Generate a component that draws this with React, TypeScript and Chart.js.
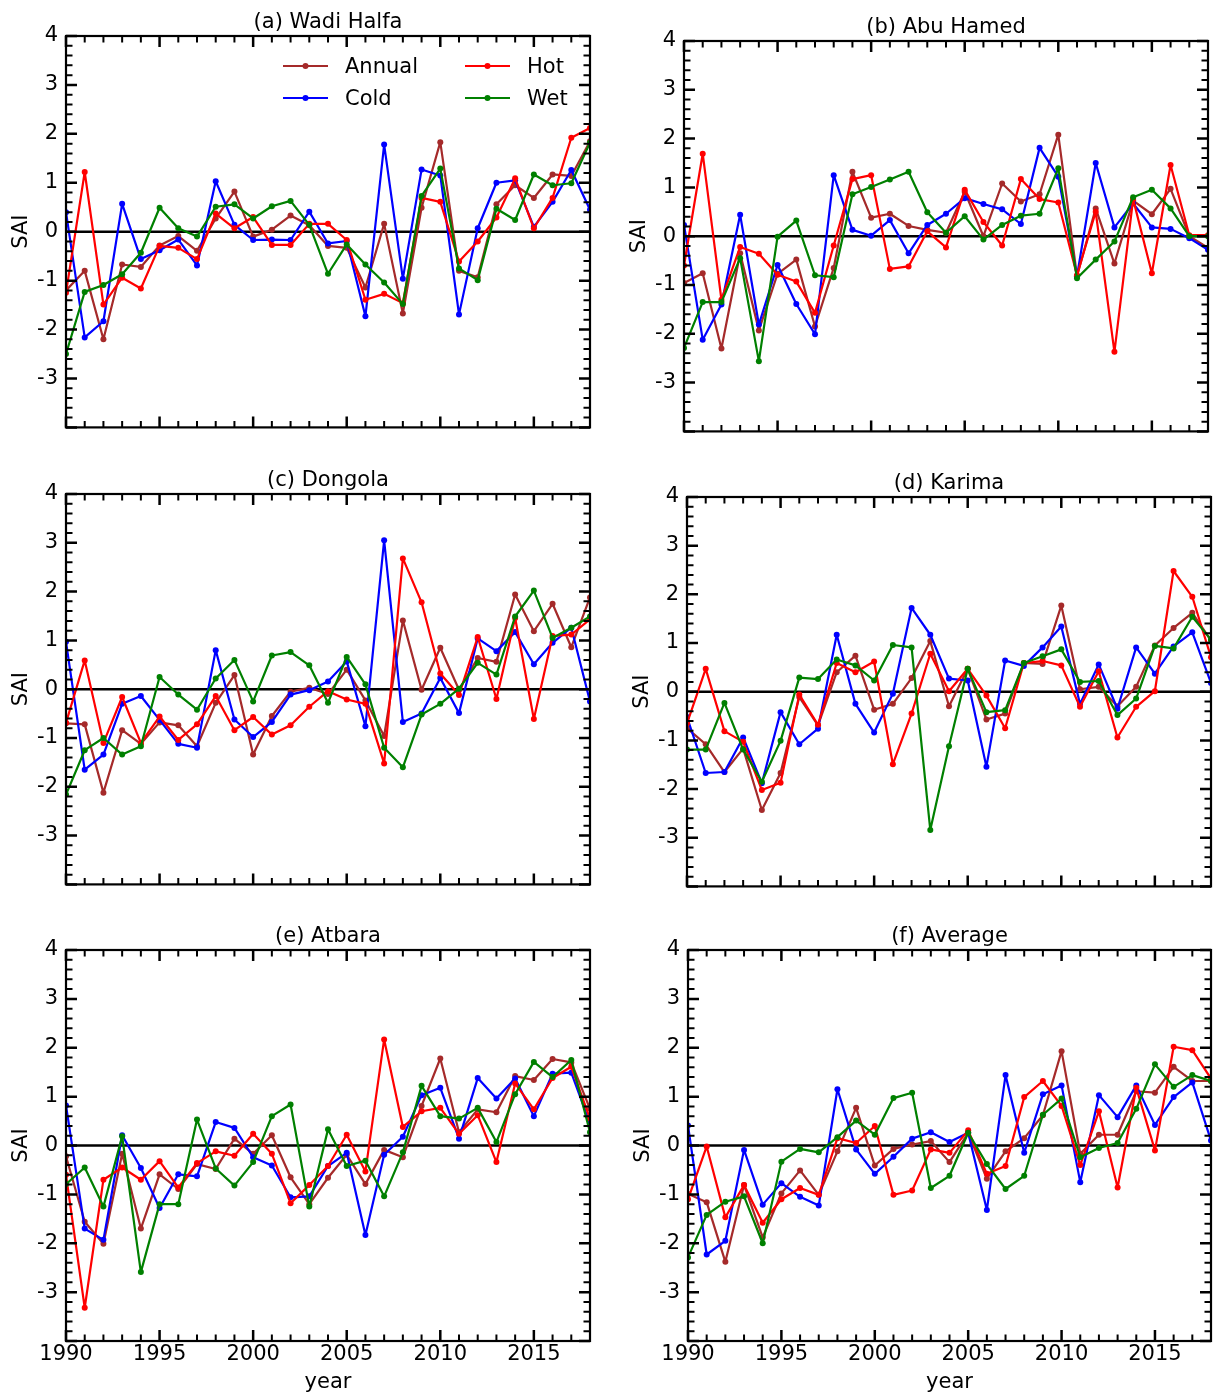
import React, { useEffect, useRef } from "react";
import { Chart, registerables } from "chart.js";

Chart.register(...registerables);
Chart.defaults.font.family = "'DejaVu Sans', sans-serif";

// ---- data -------------------------------------------------------------
const years = [
  1990, 1991, 1992, 1993, 1994, 1995, 1996, 1997, 1998, 1999,
  2000, 2001, 2002, 2003, 2004, 2005, 2006, 2007, 2008, 2009,
  2010, 2011, 2012, 2013, 2014, 2015, 2016, 2017, 2018,
];
const xTickValues = [1990, 1995, 2000, 2005, 2010, 2015];
const yTickValues = [-4, -3, -2, -1, 0, 1, 2, 3, 4];

const wadiHalfaAnnual = [-1.2, -0.8, -2.2, -0.67, -0.72, -0.28, -0.09, -0.39, 0.27, 0.82, -0.1, 0.04, 0.33, 0.13, -0.29, -0.33, -1.14, 0.16, -1.67, 0.49, 1.83, -0.8, -0.93, 0.56, 0.95, 0.69, 1.17, 1.14, 1.85];
const wadiHalfaCold = [0.4, -2.16, -1.83, 0.57, -0.56, -0.38, -0.16, -0.69, 1.03, 0.14, -0.17, -0.16, -0.17, 0.41, -0.24, -0.19, -1.73, 1.78, -0.96, 1.27, 1.15, -1.69, 0.07, 1.0, 1.05, 0.1, 0.61, 1.26, 0.45];
const wadiHalfaHot = [-1.25, 1.22, -1.49, -0.94, -1.16, -0.29, -0.33, -0.56, 0.37, 0.07, 0.3, -0.27, -0.27, 0.16, 0.16, -0.17, -1.39, -1.27, -1.46, 0.69, 0.61, -0.61, -0.2, 0.29, 1.09, 0.07, 0.69, 1.92, 2.12];
const wadiHalfaWet = [-2.5, -1.23, -1.09, -0.87, -0.43, 0.49, 0.07, -0.1, 0.51, 0.56, 0.27, 0.52, 0.63, 0.14, -0.86, -0.26, -0.67, -1.04, -1.48, 0.73, 1.29, -0.75, -0.99, 0.47, 0.24, 1.17, 0.95, 0.99, 1.82];

const abuHamedAnnual = [-0.96, -0.76, -2.3, -0.35, -1.93, -0.77, -0.48, -1.85, -0.65, 1.32, 0.38, 0.46, 0.21, 0.13, 0.07, 0.91, 0.0, 1.08, 0.71, 0.86, 2.08, -0.82, 0.57, -0.56, 0.73, 0.45, 0.97, 0.0, -0.24];
const abuHamedCold = [0.23, -2.12, -1.4, 0.44, -1.81, -0.59, -1.39, -2.01, 1.25, 0.13, 0.01, 0.33, -0.35, 0.23, 0.46, 0.78, 0.66, 0.55, 0.25, 1.81, 1.22, -0.82, 1.5, 0.18, 0.67, 0.18, 0.15, -0.04, -0.28];
const abuHamedHot = [-0.6, 1.69, -1.3, -0.22, -0.36, -0.79, -0.93, -1.57, -0.19, 1.17, 1.25, -0.67, -0.62, 0.1, -0.23, 0.95, 0.29, -0.19, 1.17, 0.76, 0.69, -0.8, 0.5, -2.37, 0.76, -0.76, 1.46, 0.02, 0.02];
const abuHamedWet = [-2.29, -1.35, -1.35, -0.45, -2.56, -0.01, 0.32, -0.8, -0.84, 0.86, 1.01, 1.16, 1.32, 0.49, 0.07, 0.41, -0.07, 0.23, 0.42, 0.46, 1.39, -0.86, -0.48, -0.11, 0.8, 0.95, 0.57, 0.0, 0.0];

const dongolaAnnual = [-0.7, -0.72, -2.12, -0.84, -1.12, -0.68, -0.74, -1.17, -0.28, 0.29, -1.34, -0.55, -0.05, 0.03, -0.1, 0.4, -0.23, -0.96, 1.41, -0.01, 0.85, -0.01, 0.64, 0.56, 1.94, 1.19, 1.75, 0.86, 1.88];
const dongolaCold = [0.97, -1.65, -1.34, -0.3, -0.14, -0.63, -1.12, -1.2, 0.8, -0.62, -0.98, -0.67, -0.11, -0.02, 0.16, 0.57, -0.76, 3.05, -0.67, -0.5, 0.23, -0.49, 1.04, 0.78, 1.17, 0.51, 0.95, 1.26, -0.25];
const dongolaHot = [-0.69, 0.59, -1.1, -0.16, -1.1, -0.56, -1.04, -0.72, -0.14, -0.84, -0.57, -0.93, -0.74, -0.36, -0.04, -0.21, -0.3, -1.52, 2.68, 1.78, 0.32, -0.12, 1.07, -0.2, 1.46, -0.61, 1.09, 1.12, 1.43];
const dongolaWet = [-2.16, -1.25, -1.0, -1.34, -1.17, 0.25, -0.11, -0.42, 0.22, 0.6, -0.25, 0.69, 0.76, 0.49, -0.28, 0.66, 0.1, -1.2, -1.6, -0.52, -0.3, 0.01, 0.54, 0.3, 1.49, 2.02, 1.05, 1.26, 1.49];

const karimaAnnual = [-0.75, -1.08, -1.65, -1.17, -2.43, -1.67, -0.11, -0.69, 0.4, 0.74, -0.37, -0.25, 0.28, 1.04, -0.3, 0.47, -0.57, -0.45, 0.59, 0.57, 1.77, 0.05, 0.1, -0.3, 0.1, 0.95, 1.31, 1.62, 1.05];
const karimaCold = [-0.52, -1.67, -1.65, -0.94, -1.88, -0.42, -1.08, -0.76, 1.17, -0.25, -0.84, -0.04, 1.72, 1.17, 0.27, 0.23, -1.54, 0.64, 0.53, 0.91, 1.34, -0.25, 0.56, -0.35, 0.91, 0.37, 0.93, 1.22, 0.18];
const karimaHot = [-0.65, 0.47, -0.81, -1.03, -2.02, -1.87, -0.06, -0.68, 0.59, 0.4, 0.62, -1.49, -0.45, 0.78, 0.01, 0.47, -0.08, -0.75, 0.59, 0.63, 0.54, -0.31, 0.42, -0.94, -0.31, 0.01, 2.48, 1.95, 0.71];
const karimaWet = [-1.19, -1.19, -0.23, -1.19, -1.85, -1.01, 0.29, 0.26, 0.66, 0.54, 0.23, 0.96, 0.91, -2.84, -1.12, 0.47, -0.42, -0.38, 0.59, 0.73, 0.87, 0.2, 0.22, -0.48, -0.14, 0.94, 0.89, 1.54, 1.07];

const atbaraAnnual = [-0.22, -1.56, -2.01, -0.17, -1.7, -0.59, -0.89, -0.38, -0.48, 0.14, -0.17, 0.21, -0.65, -1.2, -0.66, -0.19, -0.79, -0.09, -0.24, 0.81, 1.78, 0.27, 0.74, 0.68, 1.42, 1.34, 1.77, 1.7, 0.75];
const atbaraCold = [0.82, -1.7, -1.93, 0.21, -0.46, -1.28, -0.59, -0.63, 0.48, 0.36, -0.24, -0.41, -1.06, -1.04, -0.42, -0.15, -1.83, -0.19, 0.18, 1.03, 1.18, 0.14, 1.38, 0.96, 1.37, 0.6, 1.47, 1.49, 0.45];
const atbaraHot = [-0.6, -3.32, -0.7, -0.45, -0.7, -0.32, -0.86, -0.36, -0.12, -0.21, 0.24, -0.17, -1.18, -0.81, -0.42, 0.22, -0.53, 2.17, 0.38, 0.7, 0.77, 0.24, 0.62, -0.34, 1.27, 0.74, 1.38, 1.61, 0.55];
const atbaraWet = [-0.79, -0.45, -1.25, 0.19, -2.59, -1.2, -1.2, 0.53, -0.47, -0.82, -0.34, 0.6, 0.84, -1.25, 0.33, -0.42, -0.31, -1.04, -0.14, 1.22, 0.6, 0.55, 0.77, 0.07, 1.05, 1.71, 1.4, 1.75, 0.27];

const averageAnnual = [-0.99, -1.16, -2.38, -0.81, -1.88, -0.98, -0.51, -1.01, -0.12, 0.77, -0.41, -0.07, 0.02, 0.09, -0.34, 0.26, -0.68, -0.12, 0.15, 0.62, 1.93, -0.17, 0.22, 0.22, 1.11, 1.08, 1.61, 1.32, 1.32];
const averageCold = [0.41, -2.23, -1.95, -0.09, -1.21, -0.77, -1.05, -1.23, 1.15, -0.08, -0.58, -0.23, 0.14, 0.27, 0.07, 0.26, -1.32, 1.44, -0.15, 1.05, 1.23, -0.75, 1.03, 0.58, 1.23, 0.42, 0.99, 1.29, 0.1];
const averageHot = [-1.1, -0.02, -1.47, -0.81, -1.58, -1.1, -0.87, -1.01, 0.15, 0.05, 0.4, -1.01, -0.92, -0.08, -0.15, 0.31, -0.58, -0.42, 0.99, 1.32, 0.81, -0.4, 0.7, -0.86, 1.18, -0.1, 2.02, 1.95, 1.37];
const averageWet = [-2.29, -1.42, -1.15, -1.04, -2.0, -0.33, -0.07, -0.14, 0.17, 0.51, 0.22, 0.97, 1.08, -0.87, -0.62, 0.26, -0.38, -0.89, -0.62, 0.63, 0.96, -0.24, -0.05, 0.05, 0.75, 1.66, 1.2, 1.44, 1.32];

// ---- series styling (legend order: Annual, Cold, Hot, Wet) ------------
const SERIES = [
  { key: "annual", label: "Annual", color: "#a52a2a", order: 4 },
  { key: "cold", label: "Cold", color: "#0000ff", order: 3 },
  { key: "hot", label: "Hot", color: "#ff0000", order: 2 },
  { key: "wet", label: "Wet", color: "#008000", order: 1 },
];

const STATIONS = [
  { title: "(a) Wadi Halfa", annual: wadiHalfaAnnual, cold: wadiHalfaCold, hot: wadiHalfaHot, wet: wadiHalfaWet },
  { title: "(b) Abu Hamed", annual: abuHamedAnnual, cold: abuHamedCold, hot: abuHamedHot, wet: abuHamedWet },
  { title: "(c) Dongola", annual: dongolaAnnual, cold: dongolaCold, hot: dongolaHot, wet: dongolaWet },
  { title: "(d) Karima", annual: karimaAnnual, cold: karimaCold, hot: karimaHot, wet: karimaWet },
  { title: "(e) Atbara", annual: atbaraAnnual, cold: atbaraCold, hot: atbaraHot, wet: atbaraWet },
  { title: "(f) Average", annual: averageAnnual, cold: averageCold, hot: averageHot, wet: averageWet },
];

// ---- layout -----------------------------------------------------------
// plot-area rectangles on the page, in the same order as STATIONS
const PLOT_BOXES = [
  { left: 66, top: 36, right: 590, bottom: 428 },
  { left: 684, top: 41, right: 1208, bottom: 432 },
  { left: 66, top: 494, right: 590, bottom: 885 },
  { left: 687, top: 497, right: 1211, bottom: 887 },
  { left: 66, top: 950, right: 590, bottom: 1341 },
  { left: 688, top: 950, right: 1211, bottom: 1341 },
];

const MARGIN_LEFT = 66;
const MARGIN_TOP = 36;
const MARGIN_RIGHT = 3;
const MARGIN_BOTTOM_PLAIN = 20;
const MARGIN_BOTTOM_LABELLED = 54;
const FONT_SIZE = 21;
const FONT = `${FONT_SIZE}px 'DejaVu Sans', sans-serif`;

function decorPlugin(title: string, withXTitle: boolean, withLegend: boolean) {
  return {
    id: "axesDecor",
    beforeDatasetsDraw(chart: any) {
      const { ctx, chartArea: a, scales } = chart;
      const y0 = scales.y.getPixelForValue(0);
      ctx.save();
      ctx.beginPath();
      ctx.moveTo(a.left, y0);
      ctx.lineTo(a.right, y0);
      ctx.lineWidth = 2.5;
      ctx.strokeStyle = "#000";
      ctx.stroke();
      ctx.restore();
    },
    afterDatasetsDraw(chart: any) {
      const { ctx, chartArea: a, scales } = chart;
      ctx.save();
      ctx.strokeStyle = "#000";
      // inward ticks on all four sides
      for (let i = -20; i <= 20; i++) {
        const major = i % 5 === 0;
        const len = major ? 11 : 6.5;
        const py = scales.y.getPixelForValue(i / 5);
        ctx.lineWidth = major ? 2.5 : 2;
        ctx.beginPath();
        ctx.moveTo(a.left, py);
        ctx.lineTo(a.left + len, py);
        ctx.moveTo(a.right, py);
        ctx.lineTo(a.right - len, py);
        ctx.stroke();
      }
      for (let yr = years[0]; yr <= years[years.length - 1]; yr++) {
        const major = (yr - 1990) % 5 === 0;
        const len = major ? 11 : 6.5;
        const px = scales.x.getPixelForValue(yr);
        ctx.lineWidth = major ? 2.5 : 2;
        ctx.beginPath();
        ctx.moveTo(px, a.bottom);
        ctx.lineTo(px, a.bottom - len);
        ctx.moveTo(px, a.top);
        ctx.lineTo(px, a.top + len);
        ctx.stroke();
      }
      ctx.lineWidth = 2.2;
      ctx.strokeRect(a.left, a.top, a.right - a.left, a.bottom - a.top);
      ctx.restore();
    },
    afterDraw(chart: any) {
      const { ctx, chartArea: a } = chart;
      ctx.save();
      ctx.fillStyle = "#000";
      ctx.font = FONT;
      // panel title
      ctx.textAlign = "center";
      ctx.textBaseline = "alphabetic";
      ctx.fillText(title, (a.left + a.right) / 2, a.top - 8);
      // y-axis title
      ctx.save();
      ctx.translate(a.left - 44, (a.top + a.bottom) / 2);
      ctx.rotate(-Math.PI / 2);
      ctx.textBaseline = "middle";
      ctx.fillText("SAI", 0, 0);
      ctx.restore();
      // x-axis title
      if (withXTitle) {
        ctx.textBaseline = "middle";
        ctx.fillText("year", (a.left + a.right) / 2, a.bottom + 42);
      }
      // legend: two columns, filled column by column
      if (withLegend) {
        const cols = [217, 399];
        const rows = [30, 62];
        SERIES.forEach((s, i) => {
          const x1 = a.left + cols[Math.floor(i / 2)];
          const x2 = x1 + 45;
          const y = a.top + rows[i % 2];
          ctx.strokeStyle = s.color;
          ctx.fillStyle = s.color;
          ctx.lineWidth = 2.2;
          ctx.beginPath();
          ctx.moveTo(x1, y);
          ctx.lineTo(x2, y);
          ctx.stroke();
          ctx.beginPath();
          ctx.arc((x1 + x2) / 2, y, 3, 0, Math.PI * 2);
          ctx.fill();
          ctx.fillStyle = "#000";
          ctx.textAlign = "left";
          ctx.textBaseline = "middle";
          ctx.fillText(s.label, x2 + 17, y + 2);
        });
      }
      ctx.restore();
    },
  };
}

function Panel({ index }: { index: number }) {
  const ref = useRef<HTMLCanvasElement | null>(null);
  const station: any = STATIONS[index];
  const box = PLOT_BOXES[index];
  const labelled = index >= 4;
  const bottomMargin = labelled ? MARGIN_BOTTOM_LABELLED : MARGIN_BOTTOM_PLAIN;
  const width = box.right - box.left + MARGIN_LEFT + MARGIN_RIGHT;
  const height = box.bottom - box.top + MARGIN_TOP + bottomMargin;

  useEffect(() => {
    if (!ref.current) return;
    const chart = new Chart(ref.current, {
      type: "line",
      data: {
        datasets: SERIES.map((s) => ({
          label: s.label,
          data: years.map((yr, i) => ({ x: yr, y: station[s.key][i] })),
          borderColor: s.color,
          backgroundColor: s.color,
          borderWidth: 2.2,
          borderJoinStyle: "round",
          borderCapStyle: "round",
          pointRadius: 3,
          pointBorderWidth: 0,
          pointHoverRadius: 3,
          tension: 0,
          clip: 0,
          order: s.order,
        })),
      },
      options: {
        animation: false,
        responsive: false,
        maintainAspectRatio: false,
        events: [],
        layout: {
          autoPadding: false,
          padding: { top: MARGIN_TOP, right: MARGIN_RIGHT, left: 0, bottom: 0 },
        },
        plugins: {
          legend: { display: false },
          tooltip: { enabled: false },
          title: { display: false },
        },
        scales: {
          x: {
            type: "linear",
            min: 1990,
            max: 2018,
            grid: { display: false, drawTicks: false },
            border: { display: false },
            afterBuildTicks: (scale: any) => {
              scale.ticks = xTickValues.map((v) => ({ value: v }));
            },
            afterFit: (scale: any) => {
              scale.height = bottomMargin;
            },
            ticks: {
              display: labelled,
              padding: 1,
              color: "#000",
              font: { size: FONT_SIZE },
              maxRotation: 0,
              autoSkip: false,
              callback: (v: any) => String(v),
            },
          },
          y: {
            type: "linear",
            min: -4,
            max: 4,
            grid: { display: false, drawTicks: false },
            border: { display: false },
            afterBuildTicks: (scale: any) => {
              scale.ticks = yTickValues.map((v) => ({ value: v }));
            },
            afterFit: (scale: any) => {
              scale.width = MARGIN_LEFT;
            },
            ticks: {
              padding: 8,
              color: "#000",
              font: { size: FONT_SIZE },
              callback: (v: any) => (v === -4 ? "" : String(v)),
            },
          },
        },
      } as any,
      plugins: [decorPlugin(station.title, labelled, index === 0)],
    });
    return () => chart.destroy();
  }, []);

  return (
    <canvas
      ref={ref}
      width={width}
      height={height}
      style={{
        position: "absolute",
        left: box.left - MARGIN_LEFT,
        top: box.top - MARGIN_TOP,
        width,
        height,
      }}
    />
  );
}

export default function App() {
  return (
    <div
      style={{
        position: "absolute",
        left: 0,
        top: 0,
        width: 1214,
        height: 1396,
        overflow: "hidden",
        background: "#fff",
      }}
    >
      {STATIONS.map((_, i) => (
        <Panel key={i} index={i} />
      ))}
    </div>
  );
}
